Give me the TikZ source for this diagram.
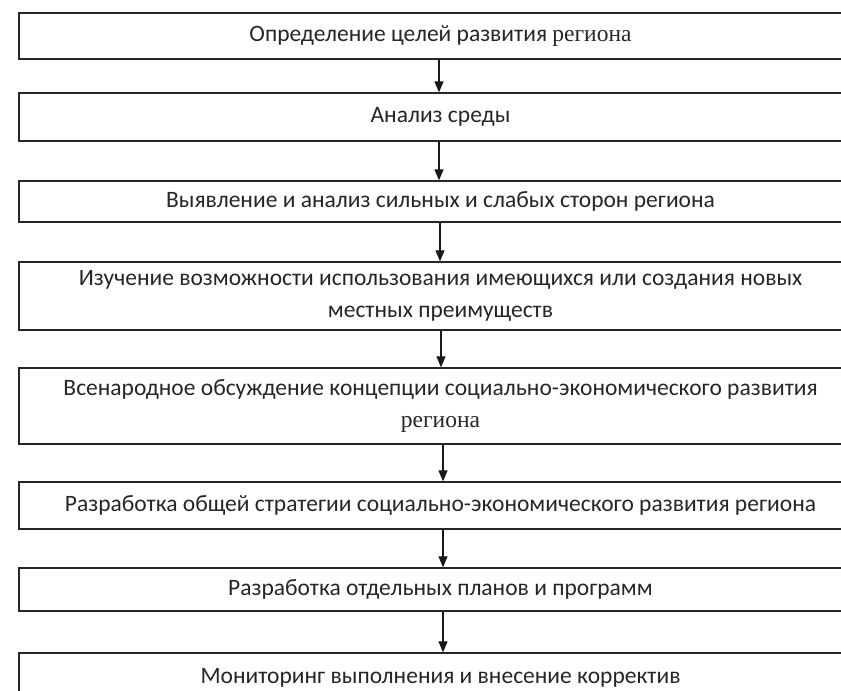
\documentclass[tikz,border=0pt]{standalone}
\usepackage{fontspec}
\setmainfont{Carlito}
\newfontfamily\timesfont{Liberation Serif}
\usetikzlibrary{arrows.meta}
\tikzset{
  stage/.style={draw=black!85, line width=1.3pt, minimum width=843pt, inner sep=0pt,
    align=center, font=\fontsize{23.5}{32}\selectfont, text=black!85},
  flow/.style={-{Triangle[width=9pt,length=11pt]}, line width=1.2pt, black!90}
}
\begin{document}
\begin{tikzpicture}[x=1pt,y=-1pt]
    \clip (0,0) rectangle (841,691);
    \node[stage, minimum height=46pt] (goals) at (440.5,36) {Определение целей развития {\timesfont региона}};
    \node[stage, minimum height=48pt] (env) at (440.5,117) {Анализ среды};
    \node[stage, minimum height=41pt] (swot) at (440.5,201.5) {Выявление и анализ сильных и слабых сторон региона};
    \node[stage, minimum height=68pt] (adv) at (440.5,296) {Изучение возможности использования имеющихся или создания новых\\местных преимуществ};
    \node[stage, minimum height=76pt] (talk) at (440.5,406) {Всенародное обсуждение концепции социально-экономического развития\\{\timesfont региона}};
    \node[stage, minimum height=47pt] (strat) at (440.5,505.5) {Разработка общей стратегии социально-экономического развития региона};
    \node[stage, minimum height=43pt] (plans) at (440.5,589.5) {Разработка отдельных планов и программ};
    \node[stage, minimum height=50pt] (monit) at (440.5,678) {Мониторинг выполнения и внесение корректив};
    % arrows between stages
    \foreach \a/\b/\s in {goals/env/-1.5, env/swot/-1.5, swot/adv/-0.5, adv/talk/0.5,
                          talk/strat/2.5, strat/plans/2.5, plans/monit/2.5}
        \draw[flow] ([xshift=\s pt]\a.south) -- ([xshift=\s pt]\b.north);
\end{tikzpicture}
\end{document}
